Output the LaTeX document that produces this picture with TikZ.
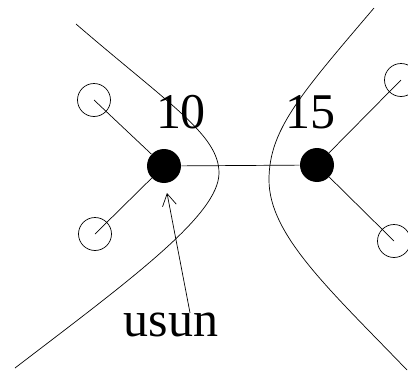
\documentclass[tikz,border=0pt]{standalone}
\usepackage{fontspec}
\setmainfont{Liberation Serif}
\usetikzlibrary{arrows.meta}

\begin{document}
\begin{tikzpicture}[x=1pt, y=-1pt, line width=0.7pt,
  every node/.style={font=\fontsize{50}{56}\selectfont},
  hub/.style={circle, fill=black, inner sep=0pt, minimum size=34pt},
  leaf/.style={circle, draw, inner sep=0pt, minimum size=33pt}]
\useasboundingbox (0,0) rectangle (408,383);
\node[hub] (A) at (164,166) {};
\node[hub] (B) at (317,165) {};
\node[leaf] (A1) at (94,100) {};
\node[leaf] (A2) at (95,234) {};
\node[leaf] (B1) at (401,80) {};
\node[leaf] (B2) at (394,241) {};
\node[anchor=base] (LA) at (181,128) {10};
\node[anchor=base] (LB) at (310,128) {15};
\node[anchor=base] (U) at (171,336) {usun};
\coordinate (tip) at (167,193);
\draw (A)--(B);
\draw (A)--(A1.center); \draw (A)--(A2.center);
\draw (B)--(B1.center); \draw (B)--(B2.center);
\draw (76,24) .. controls (170,105) and (219,135) .. (219,173)
  .. controls (219,215) and (130,280) .. (15,368);
\draw (374,8) .. controls (300,95) and (269,130) .. (269,180)
  .. controls (269,235) and (330,290) .. (407,370);
\draw[-{Straight Barb[length=12pt,width=14pt]}] (U.north)++(19,4) -- (tip);
\end{tikzpicture}
\end{document}
